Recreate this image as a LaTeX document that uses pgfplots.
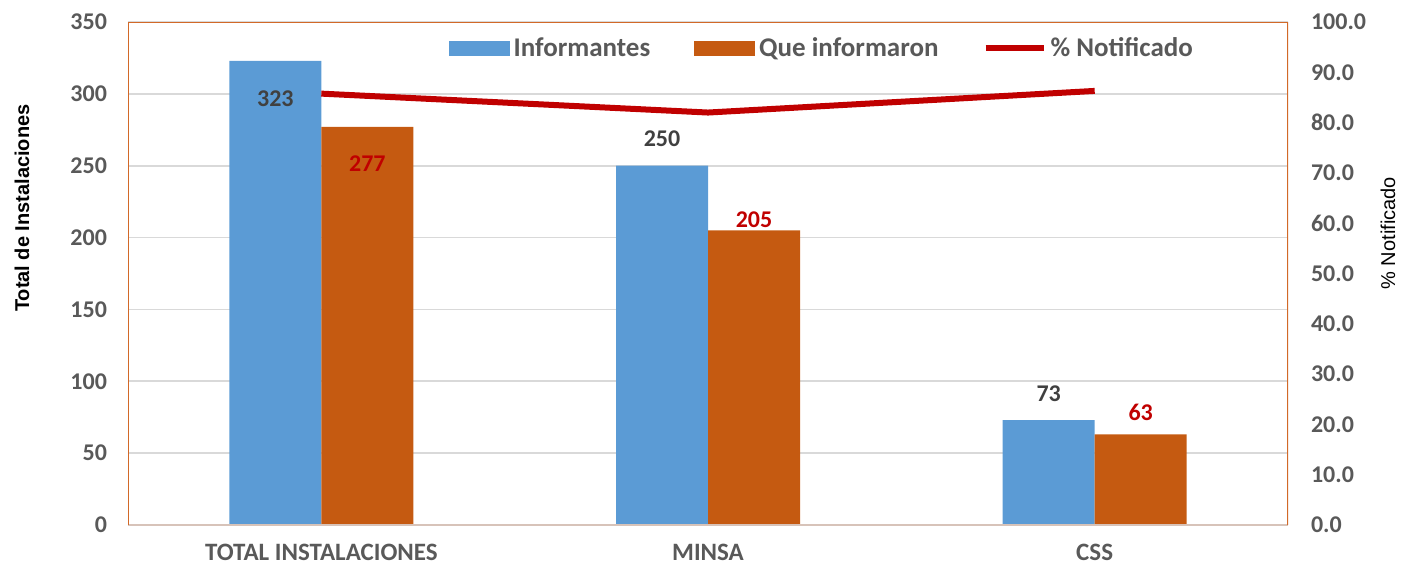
\documentclass[border=0pt]{standalone}
\usepackage{pgfplots}
\pgfplotsset{compat=1.18}
\usepackage{pgfplotstable}
\usepackage{fontspec}
\setmainfont{Carlito}
\newfontfamily\arial{Liberation Sans}

\definecolor{cblue}{HTML}{5B9BD5}
\definecolor{corange}{HTML}{C55A11}
\definecolor{cred}{HTML}{C00000}
\definecolor{ctext}{HTML}{595959}
\definecolor{clabel}{HTML}{404040}
\definecolor{cframe}{RGB}{210,105,40}
\definecolor{cbottom}{RGB}{215,195,185}
\definecolor{cgrid}{HTML}{D9D9D9}

% x, value, label offset (pt, centre of label above bar top)
\pgfplotstableread{
x y off
0 323 -19
1 250 13.5
2 73 13
}\informantes
\pgfplotstableread{
x y off
0 277 -18.5
1 205 5.5
2 63 11
}\informaron

\begin{document}
\begin{tikzpicture}
\pgfplotsset{
  base/.style={
    scale only axis, width=580pt, height=251.5pt,
    xmin=-0.5, xmax=2.5,
    major tick length=0pt,
    /pgf/number format/assume math mode=true,
    ticklabel style={font=\fontsize{12}{14}\selectfont\bfseries, text=ctext},
  },
}
\begin{axis}[
  base,
  ybar=0pt, bar width=46pt,
  ymin=0, ymax=350, ytick={0,50,...,350},
  xtick={0,1,2},
  xticklabels={TOTAL INSTALACIONES, MINSA, CSS},
  xticklabel style={yshift=-6pt, font=\fontsize{12.5}{14}\selectfont\bfseries},
  yticklabel style={xshift=-7pt},
  ymajorgrids, grid style={cgrid, line width=0.8pt},
  axis line style={draw=none},
  ylabel={\arial\bfseries Total de Instalaciones},
  ylabel style={at={([xshift=-53pt]rel axis cs:0,0.63)}, anchor=center,
    font=\fontsize{10}{12}\selectfont, text=black},
  nodes near coords,
  nodes near coords style={anchor=center, font=\fontsize{12}{14}\selectfont\bfseries},
]
\addplot[fill=cblue, draw=none,
  visualization depends on={\thisrow{off} \as \off},
  every node near coord/.append style={text=clabel, yshift=\off pt}]
  table[x=x, y=y] {\informantes};
\addplot[fill=corange, draw=none,
  visualization depends on={\thisrow{off} \as \off},
  every node near coord/.append style={text=cred, yshift=\off pt}]
  table[x=x, y=y] {\informaron};
\draw[cbottom, line width=1pt] (rel axis cs:0,0) -- (rel axis cs:1,0);
\draw[cframe, line width=1pt] (rel axis cs:0,0) -- (rel axis cs:0,1)
  -- (rel axis cs:1,1) -- (rel axis cs:1,0);
\end{axis}

\begin{axis}[
  base,
  axis x line=none,
  axis y line*=right,
  axis line style={draw=none},
  ymin=0, ymax=100, ytick={0,10,...,100},
  yticklabel style={xshift=8pt, /pgf/number format/.cd, fixed, fixed zerofill, precision=1},
  ylabel={\arial \% Notificado},
  ylabel style={at={([xshift=50pt]rel axis cs:1,0.58)}, anchor=center, rotate=0,
    font=\fontsize{10}{12}\selectfont, text=black},
  legend columns=3,
  legend style={at={(0.599,0.948)}, anchor=center, draw=none, fill=none,
    font=\fontsize{13.5}{15}\selectfont\bfseries, text=ctext,
    /tikz/every even column/.append style={column sep=20pt},
    inner sep=0pt},
  legend cell align=left,
]
\addlegendimage{legend image code/.code={\fill[cblue] (0pt,-3.5pt) rectangle (30pt,3.5pt);}}
\addlegendimage{legend image code/.code={\fill[corange] (0pt,-3.5pt) rectangle (30pt,3.5pt);}}
\addplot[cred, line width=3pt, mark=none,
  legend image code/.code={\draw[cred, line width=3pt] (0pt,0pt) -- (29pt,0pt);}]
  coordinates {(0,85.76) (1,82.0) (2,86.30)};
\legend{Informantes, Que informaron, \% Notificado}
\end{axis}
\pgfresetboundingbox
\path[use as bounding box] (-64pt,-19.5pt) rectangle (636.5pt,262.5pt);
\end{tikzpicture}
\end{document}
